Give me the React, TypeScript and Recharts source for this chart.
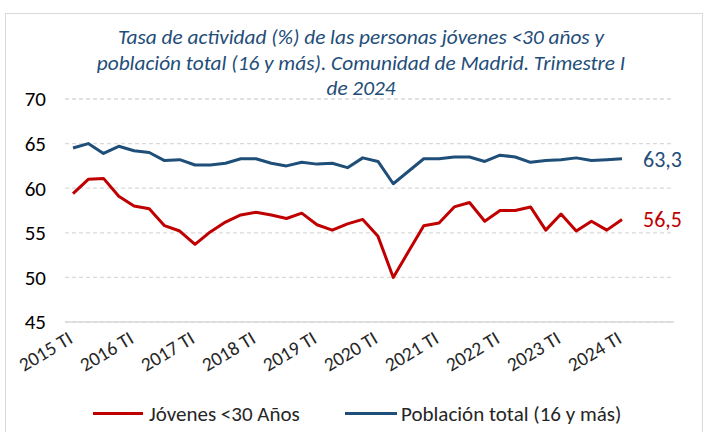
import React from 'react';
import { LineChart, Line, XAxis, YAxis, CartesianGrid } from 'recharts';

const years = [2015, 2016, 2017, 2018, 2019, 2020, 2021, 2022, 2023, 2024];
const quarters = ['TI', 'TII', 'TIII', 'TIV'];
const categories: string[] = [];
years.forEach((y) => quarters.forEach((q) => categories.push(`${y} ${q}`)));
categories.splice(37);

const jovenes = [59.4, 61.0, 61.1, 59.1, 58.0, 57.7, 55.8, 55.2, 53.7, 55.1, 56.2, 57.0, 57.3, 57.0, 56.6, 57.2, 55.9, 55.3, 56.0, 56.5, 54.6, 50.0, 52.9, 55.8, 56.1, 57.9, 58.4, 56.3, 57.5, 57.5, 57.9, 55.3, 57.1, 55.2, 56.3, 55.3, 56.5];
const poblacion = [64.5, 65.0, 63.9, 64.7, 64.2, 64.0, 63.1, 63.2, 62.6, 62.6, 62.8, 63.3, 63.3, 62.8, 62.5, 62.9, 62.7, 62.8, 62.3, 63.4, 63.0, 60.5, 61.9, 63.3, 63.3, 63.5, 63.5, 63.0, 63.7, 63.5, 62.9, 63.1, 63.2, 63.4, 63.1, 63.2, 63.3];
const yTicks = [45, 50, 55, 60, 65, 70];
const seriesNames = ['Jóvenes <30 Años', 'Población total (16 y más)'];
const titleLines = [
  'Tasa de actividad (%) de las personas jóvenes <30 años y',
  'población total (16 y más). Comunidad de Madrid. Trimestre I',
  'de 2024',
];

const RED = '#C00000';
const BLUE = '#1F4E79';
const FONT = 'Carlito, Lato, "Liberation Sans", sans-serif';

const data = categories.map((c, i) => ({ cat: c, jov: jovenes[i], pob: poblacion[i] }));
const last = data.length - 1;

const XTick = (props: any) => {
  const { x, y, payload } = props;
  const tx = x + 1;
  const ty = y + 20;
  return (
    <text x={tx} y={ty} transform={`rotate(-31 ${tx} ${ty})`} textAnchor="end" fontSize={19.5} fill="#262626" fontFamily={FONT}>
      {payload.value}
    </text>
  );
};

const endLabel = (color: string) => (p: any) => {
  if (p.index !== last) return null;
  return (
    <text x={p.x + 21} y={p.y} dy="0.36em" fontSize={22} fill={color} fontFamily={FONT}>
      {String(p.value).replace('.', ',')}
    </text>
  );
};

export default function App() {
  return (
    <div style={{ position: 'absolute', left: 0, top: 0, width: 708, height: 432, overflow: 'hidden', background: '#fff', fontFamily: FONT }}>
      <div style={{ position: 'absolute', left: 5, top: 13, width: 696, height: 440, border: '1.5px solid #d9d9d9' }} />
      <div style={{ position: 'absolute', left: 0, top: 25, width: 722, textAlign: 'center', color: BLUE, fontStyle: 'italic', fontSize: 21.3, lineHeight: '25.5px' }}>
        {titleLines.map((l, i) => (
          <div key={i}>{l}</div>
        ))}
      </div>
      <LineChart width={708} height={432} data={data} margin={{ top: 99, right: 34, left: 0, bottom: 0 }} style={{ position: 'absolute', left: 0, top: 0 }}>
        <CartesianGrid vertical={false} stroke="#d9d9d9" strokeDasharray="4 3" strokeWidth={1.3} />
        <XAxis
          dataKey="cat"
          interval={3}
          tick={<XTick />}
          tickLine={false}
          tickSize={0}
          tickMargin={0}
          axisLine={{ stroke: '#d9d9d9', strokeWidth: 1.5 }}
          padding={{ left: 8, right: 52 }}
          height={110}
        />
        <YAxis
          domain={[45, 70]}
          ticks={yTicks}
          width={65}
          axisLine={false}
          tickLine={false}
          tickMargin={13}
          tick={{ fontSize: 21, fill: '#000', fontFamily: FONT }}
        />
        <Line dataKey="jov" name={seriesNames[0]} stroke={RED} strokeWidth={3} dot={false} isAnimationActive={false} label={endLabel(RED)} strokeLinejoin="round" />
        <Line dataKey="pob" name={seriesNames[1]} stroke={BLUE} strokeWidth={3} dot={false} isAnimationActive={false} label={endLabel(BLUE)} strokeLinejoin="round" />
      </LineChart>
      <div style={{ position: 'absolute', left: 93, top: 412, width: 50, height: 3, background: RED }} />
      <div style={{ position: 'absolute', left: 149, top: 400, fontSize: 21, lineHeight: '28px', color: '#262626' }}>{seriesNames[0]}</div>
      <div style={{ position: 'absolute', left: 345, top: 412, width: 52, height: 3, background: BLUE }} />
      <div style={{ position: 'absolute', left: 401, top: 400, fontSize: 21, lineHeight: '28px', color: '#262626' }}>{seriesNames[1]}</div>
    </div>
  );
}
